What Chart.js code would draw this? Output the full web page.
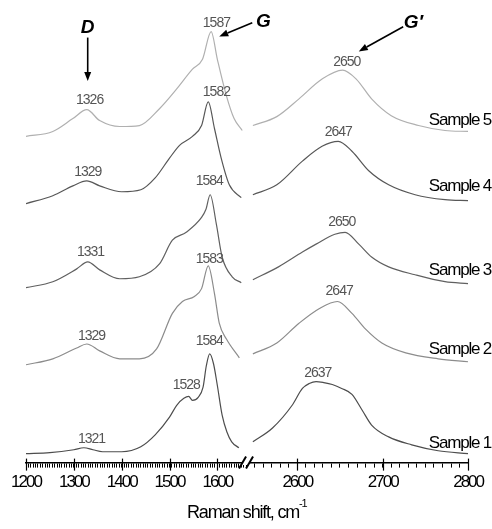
<!DOCTYPE html>
<html>
<head>
<meta charset="utf-8">
<script src="https://cdn.jsdelivr.net/npm/chart.js@4.4.0/dist/chart.umd.min.js"></script>
<style>
  html, body { margin: 0; padding: 0; background: #fff; }
</style>
</head>
<body>
<canvas id="raman" width="492" height="529"></canvas>
<script>
// Raman spectra, 5 samples stacked. x = Raman shift (cm-1), y = offset intensity (a.u.)
// low range: D and G bands, high range: G' (2D) band
const s1LowX = [1200, 1250, 1300, 1321, 1340, 1360, 1400, 1440, 1470, 1500, 1515, 1530, 1540, 1548, 1560, 1570, 1577, 1584, 1592, 1600, 1610, 1620, 1630, 1645];
const s1LowY = [11, 12, 15, 17, 15, 13, 13, 18, 30, 48, 60, 67, 69, 65, 68, 78, 100, 112, 102, 80, 50, 33, 23, 17];
const s1HighX = [2548, 2571, 2594, 2606, 2614, 2622, 2631, 2641, 2652, 2664, 2676, 2687, 2707, 2734, 2765, 2800];
const s1HighY = [23, 37, 60, 77, 82, 84, 83, 81, 77, 71, 55, 40, 28, 20, 14, 11];

const s2LowX = [1200, 1256, 1306, 1327, 1354, 1396, 1437, 1473, 1506, 1527, 1552, 1567, 1581, 1594, 1604, 1619, 1646];
const s2LowY = [101, 107, 118, 122, 115, 107, 107, 117, 153, 165, 170, 178, 201, 173, 143, 127, 108];
const s2HighX = [2548, 2576, 2602, 2626, 2647, 2664, 2680, 2699, 2727, 2765, 2800];
const s2HighY = [112, 123, 143, 158, 165, 153, 137, 123, 113, 107, 104];

const s3LowX = [1200, 1256, 1306, 1329, 1354, 1396, 1437, 1479, 1506, 1535, 1567, 1576, 1585, 1598, 1610, 1631, 1650];
const s3LowY = [179, 185, 198, 205, 197, 188, 190, 203, 227, 235, 250, 258, 273, 243, 210, 190, 184];
const s3HighX = [2548, 2578, 2606, 2622, 2644, 2656, 2672, 2687, 2707, 2738, 2773, 2800];
const s3HighY = [187, 200, 215, 223, 233, 235, 223, 210, 200, 192, 185, 183];

const s4LowX = [1200, 1256, 1298, 1327, 1354, 1400, 1440, 1470, 1500, 1521, 1548, 1567, 1581, 1594, 1608, 1625, 1650];
const s4LowY = [264, 272, 282, 287, 282, 276, 278, 290, 310, 323, 332, 343, 367, 340, 310, 283, 270];
const s4HighX = [2548, 2576, 2606, 2629, 2648, 2664, 2684, 2707, 2738, 2773, 2800];
const s4HighY = [273, 283, 307, 322, 327, 317, 297, 283, 273, 268, 267];

const s5LowX = [1200, 1256, 1298, 1327, 1354, 1396, 1437, 1479, 1515, 1548, 1569, 1587, 1600, 1619, 1635, 1652];
const s5LowY = [332, 337, 350, 359, 348, 342, 343, 360, 380, 400, 410, 438, 410, 373, 350, 338];
const s5HighX = [2548, 2576, 2602, 2629, 2653, 2669, 2687, 2710, 2742, 2773, 2800];
const s5HighY = [343, 352, 370, 390, 399, 390, 370, 353, 343, 338, 337];

const sampleNames = ['Sample 1', 'Sample 2', 'Sample 3', 'Sample 4', 'Sample 5'];
const sampleColors = ['#4d4d4d', '#8c8c8c', '#606060', '#575757', '#b0b0b0'];
const sampleLabelY = [22, 117, 197, 282, 348];

// peak position labels
const peakText = ['1321', '1528', '1584', '2637', '1329', '1583', '2647', '1331', '1584', '2650', '1329', '1582', '2647', '1326', '1587', '2650'];
const peakAxis = ['xL', 'xL', 'xL', 'xR', 'xL', 'xL', 'xR', 'xL', 'xL', 'xR', 'xL', 'xL', 'xR', 'xL', 'xL', 'xR'];
const peakX = [1337, 1535, 1583, 2624, 1337, 1583, 2649, 1335, 1583, 2652, 1329, 1598, 2648, 1333, 1598, 2658];
const peakY = [26, 80, 125, 93, 130, 208, 175, 215, 287, 245, 296, 377, 336, 369, 447, 407];

// band markers: text, axis, text pos, arrow tail, arrow tip
const bandText = ['D', 'G', 'G\u2032'];
const bandAxis = ['xL', 'xL', 'xR'];
const bandTextX = [1329, 1696, 2736];
const bandTextY = [442, 448, 447];
const bandTail = [[1329, 432], [1673, 447], [2724, 443]];
const bandTip = [[1329, 388], [1604, 433], [2672, 418]];

const FONT = '"Liberation Sans", Arial, sans-serif';

const pts = (xs, ys) => xs.map((x, i) => ({ x: x, y: ys[i] }));
const lows = [[s1LowX, s1LowY], [s2LowX, s2LowY], [s3LowX, s3LowY], [s4LowX, s4LowY], [s5LowX, s5LowY]];
const highs = [[s1HighX, s1HighY], [s2HighX, s2HighY], [s3HighX, s3HighY], [s4HighX, s4HighY], [s5HighX, s5HighY]];

const datasets = [];
sampleNames.forEach((name, i) => {
    const common = {
        label: name,
        borderColor: sampleColors[i],
        borderWidth: 1.2,
        pointRadius: 0,
        fill: false,
        cubicInterpolationMode: 'monotone'
    };
    datasets.push(Object.assign({ data: pts(lows[i][0], lows[i][1]), xAxisID: 'xL' }, common));
    datasets.push(Object.assign({ data: pts(highs[i][0], highs[i][1]), xAxisID: 'xR' }, common));
});

const xTicks = (step) => ({
    stepSize: step,
    autoSkip: false,
    maxRotation: 0,
    padding: 5,
    color: '#000',
    font: { size: 17, family: FONT },
    callback: v => (v % 100 === 0 ? v : '')
});
const xGrid = { drawOnChartArea: false, tickLength: 5, tickColor: '#000', tickWidth: 1 };
const xBorder = { color: '#000', width: 1.5 };

const decor = {
    id: 'decor',
    beforeDraw(chart) {
        chart.ctx.letterSpacing = '-2px';
    },
    afterDraw(chart) {
        const ctx = chart.ctx;
        const y = chart.scales.y;
        const area = chart.chartArea;
        ctx.save();

        // longer ticks at every 100 cm-1
        ctx.strokeStyle = '#000';
        ctx.lineWidth = 1.2;
        [['xL', 1200, 1660], ['xR', 2540, 2800]].forEach(([id, a, b]) => {
            const s = chart.scales[id];
            for (let v = Math.ceil(a / 100) * 100; v <= b; v += 100) {
                const px = Math.round(s.getPixelForValue(v)) + 0.5;
                ctx.beginPath();
                ctx.moveTo(px, area.bottom - 4);
                ctx.lineTo(px, area.bottom + 8);
                ctx.stroke();
            }
        });

        // axis break
        const bx = chart.scales.xL.right;
        ctx.clearRect(bx - 3, area.bottom - 2, 6, 4);
        ctx.lineWidth = 2;
        [-4, 3].forEach(d => {
            ctx.beginPath();
            ctx.moveTo(bx + d - 3, area.bottom + 6);
            ctx.lineTo(bx + d + 4, area.bottom - 6);
            ctx.stroke();
        });

        // peak labels
        ctx.letterSpacing = '-1px';
        ctx.font = '14px ' + FONT;
        ctx.fillStyle = '#555';
        ctx.textAlign = 'center';
        ctx.textBaseline = 'middle';
        peakText.forEach((t, i) => {
            ctx.fillText(t, chart.scales[peakAxis[i]].getPixelForValue(peakX[i]), y.getPixelForValue(peakY[i]));
        });

        // sample names
        ctx.font = '17px ' + FONT;
        ctx.fillStyle = '#000';
        ctx.textAlign = 'right';
        ctx.letterSpacing = '-1.2px';
        sampleNames.forEach((t, i) => {
            ctx.fillText(t, chart.width - 1, y.getPixelForValue(sampleLabelY[i]));
        });

        // band markers with arrows
        ctx.letterSpacing = '0px';
        ctx.font = 'italic bold 19px ' + FONT;
        ctx.textAlign = 'center';
        ctx.lineWidth = 1.6;
        ctx.strokeStyle = '#000';
        bandText.forEach((t, i) => {
            const s = chart.scales[bandAxis[i]];
            ctx.fillText(t, s.getPixelForValue(bandTextX[i]), y.getPixelForValue(bandTextY[i]));
            const x0 = s.getPixelForValue(bandTail[i][0]), y0 = y.getPixelForValue(bandTail[i][1]);
            const x1 = s.getPixelForValue(bandTip[i][0]), y1 = y.getPixelForValue(bandTip[i][1]);
            const ang = Math.atan2(y1 - y0, x1 - x0);
            const hl = 9, hw = 3.5;
            const bxh = x1 - hl * Math.cos(ang), byh = y1 - hl * Math.sin(ang);
            ctx.beginPath();
            ctx.moveTo(x0, y0);
            ctx.lineTo(bxh, byh);
            ctx.stroke();
            ctx.beginPath();
            ctx.moveTo(x1, y1);
            ctx.lineTo(bxh + hw * Math.sin(ang), byh - hw * Math.cos(ang));
            ctx.lineTo(bxh - hw * Math.sin(ang), byh + hw * Math.cos(ang));
            ctx.closePath();
            ctx.fill();
        });

        // axis title
        const cx = (area.left + area.right) / 2;
        const ty = area.bottom + 50;
        ctx.font = '18px ' + FONT;
        ctx.letterSpacing = '-1.2px';
        ctx.textAlign = 'center';
        const main = 'Raman shift, cm';
        const w = ctx.measureText(main).width;
        ctx.fillText(main, cx - 4, ty);
        ctx.font = '11px ' + FONT;
        ctx.textAlign = 'left';
        ctx.fillText('-1', cx - 4 + w / 2, ty - 9);

        ctx.restore();
    }
};

new Chart(document.getElementById('raman'), {
    type: 'line',
    data: { datasets: datasets },
    options: {
        responsive: false,
        animation: false,
        layout: { padding: { left: 26, right: 22, top: 0, bottom: 31 } },
        plugins: { legend: { display: false }, tooltip: { enabled: false } },
        scales: {
            xL: {
                type: 'linear', position: 'bottom', stack: 'x', stackWeight: 221,
                min: 1200, max: 1660,
                ticks: xTicks(5), grid: xGrid, border: xBorder
            },
            xR: {
                type: 'linear', position: 'bottom', stack: 'x', stackWeight: 223,
                min: 2540, max: 2800,
                ticks: xTicks(10), grid: xGrid, border: xBorder
            },
            y: { display: false, min: 2, max: 470 }
        }
    },
    plugins: [decor]
});
</script>
</body>
</html>
